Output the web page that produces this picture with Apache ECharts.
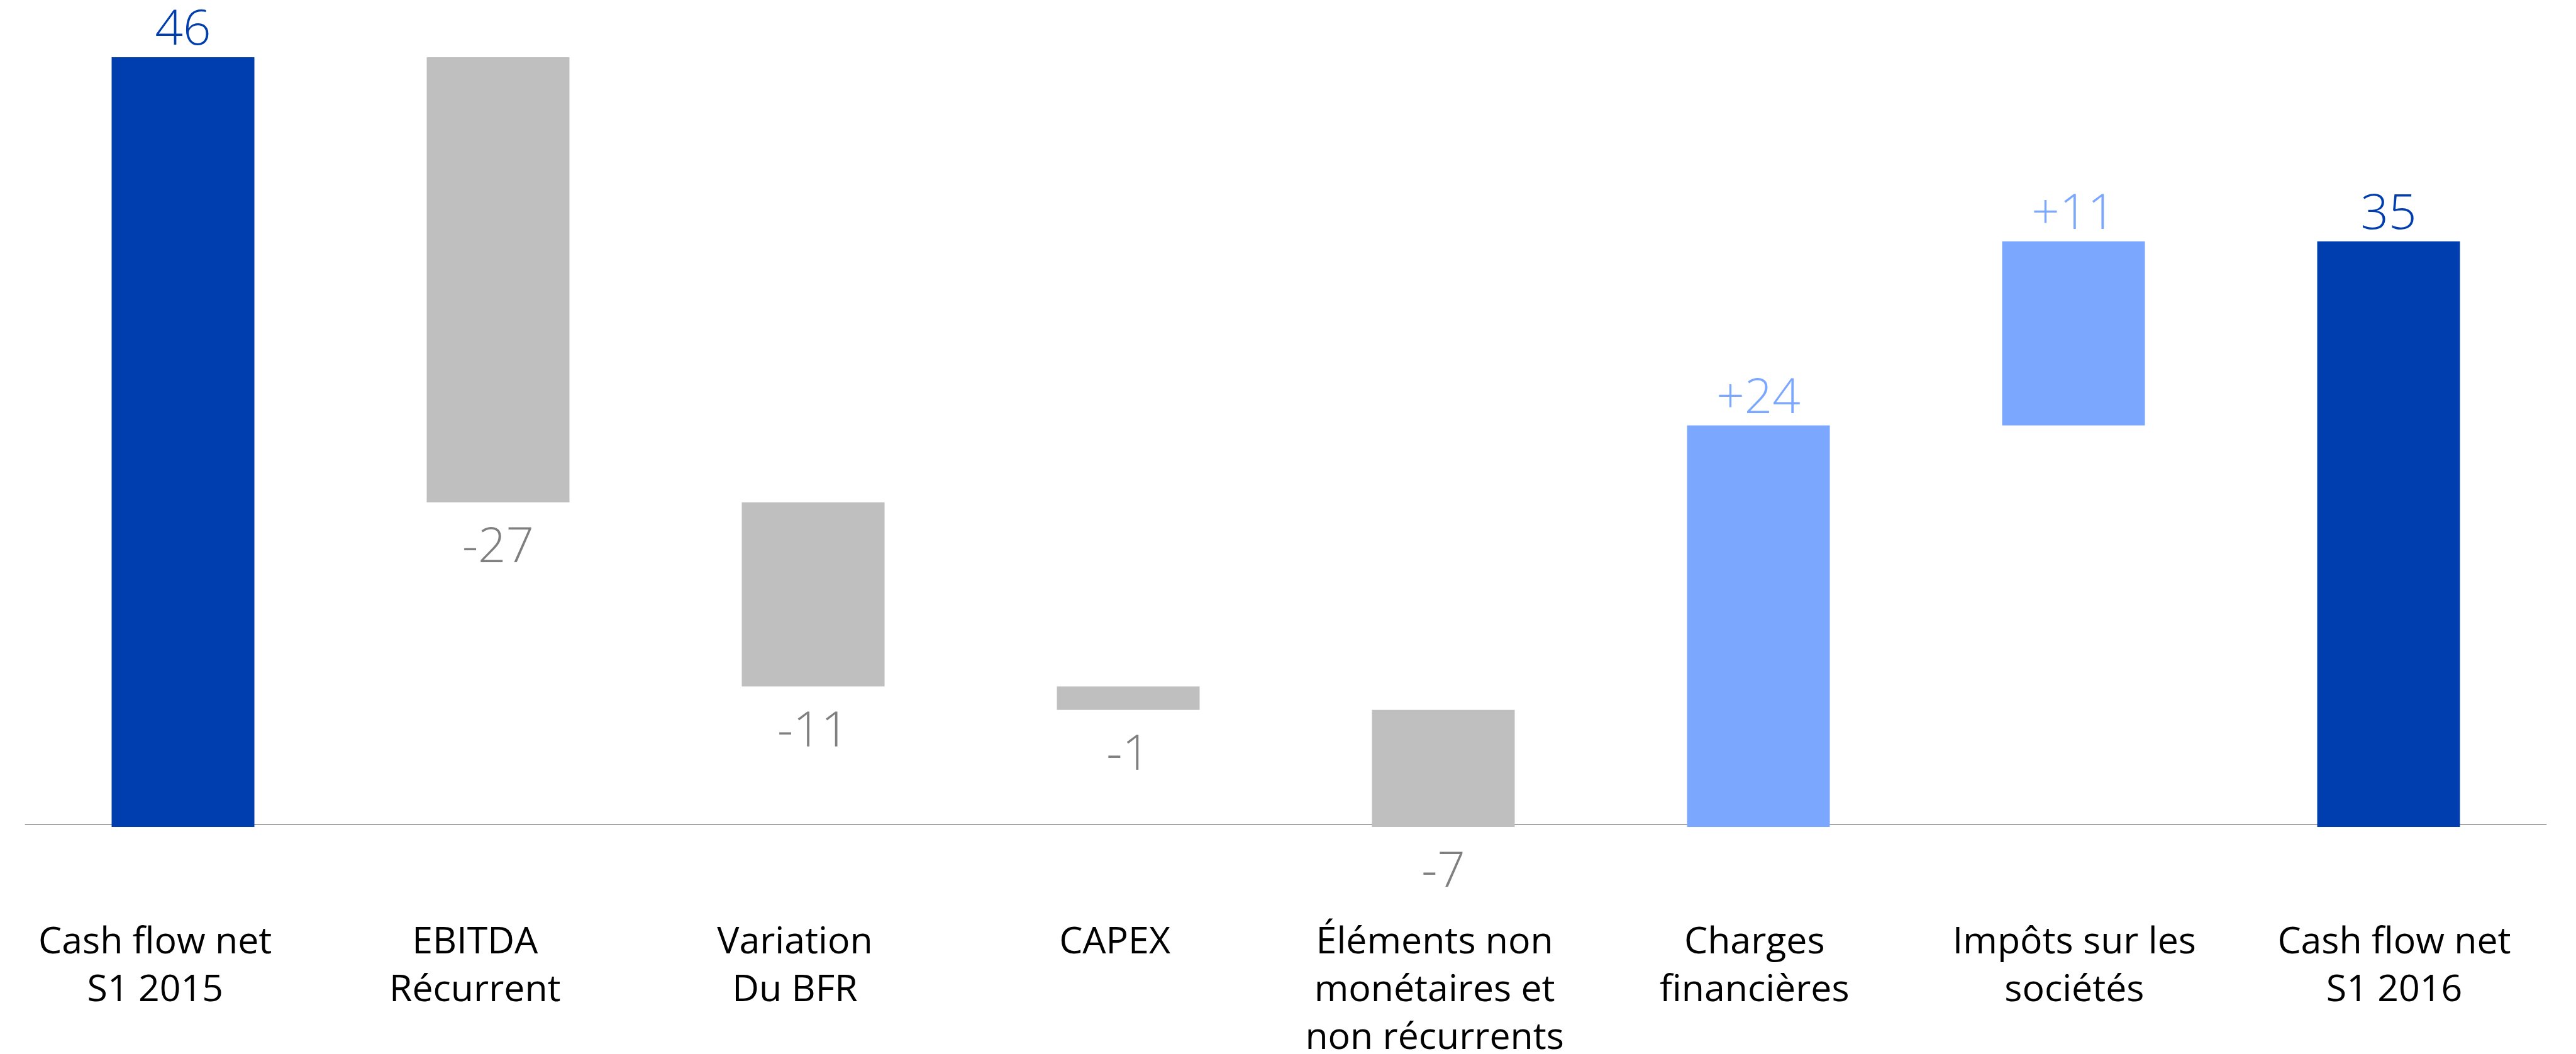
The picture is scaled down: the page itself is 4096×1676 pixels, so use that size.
<!DOCTYPE html>
<html lang="fr" style="height: 100%">
  <head>
    <meta charset="utf-8" />
  </head>
  <body style="height: 100%; margin: 0">
    <div id="container" style="width: 4096px; height: 1676px"></div>

    <script src="https://cdn.jsdelivr.net/npm/echarts@6/dist/echarts.min.js"></script>

    <script type="text/javascript">
      // waterfall: start total, variations, end total
      var categories = [
        "Cash flow net\nS1 2015",
        "EBITDA\nRécurrent",
        "Variation\nDu BFR",
        "CAPEX",
        "Éléments non\nmonétaires et\nnon récurrents",
        "Charges\nfinancières",
        "Impôts sur les\nsociétés",
        "Cash flow net\nS1 2016",
      ];
      var startValue = 46;
      var deltas = [-26.6, -11.0, -1.4, -7.0, 24.0, 11.0];
      var endValue = 35;

      var totalColor = "#003DAE";
      var downColor = "#BFBFBF";
      var downLabel = "#7F7F7F";
      var upColor = "#7BA7FF";

      var baseData = [0];
      var barData = [];
      var running = startValue;

      function labelStyle(pos, color) {
        return {
          show: true,
          position: pos,
          distance: pos === "top" ? 3 : 34,
          color: color,
          fontFamily: "Open Sans",
          fontWeight: 300,
          fontSize: 78,
        };
      }

      barData.push({
        value: startValue,
        text: String(startValue),
        itemStyle: { color: totalColor },
        label: labelStyle("top", totalColor),
      });
      deltas.forEach(function (d) {
        var txt = (d > 0 ? "+" : "") + Math.round(d);
        if (d < 0) {
          baseData.push(running + d);
          barData.push({
            value: -d,
            text: txt,
            itemStyle: { color: downColor },
            label: labelStyle("bottom", downLabel),
          });
        } else {
          baseData.push(running);
          barData.push({
            value: d,
            text: txt,
            itemStyle: { color: upColor },
            label: labelStyle("top", upColor),
          });
        }
        running += d;
      });
      baseData.push(0);
      barData.push({
        value: endValue,
        text: String(endValue),
        itemStyle: { color: totalColor },
        label: labelStyle("top", totalColor),
      });

      var myChart = echarts.init(document.getElementById("container"), null, {
        renderer: "canvas",
      });

      var option = {
        animation: false,
        grid: [
          { left: 40.5, right: 47.5, top: 91, bottom: 361, outerBoundsMode: "none" },
          // labels sit on a slightly wider spacing than the bars
          { left: -7.6, right: 34.7, top: 91, bottom: 361, outerBoundsMode: "none" },
        ],
        xAxis: [
          {
            type: "category",
            data: categories,
            offset: -4,
            axisLine: { lineStyle: { color: "#A6A6A6", width: 2 } },
            axisTick: { show: false },
            axisLabel: { show: false },
          },
          {
            type: "category",
            gridIndex: 1,
            data: categories,
            offset: -4,
            axisLine: { show: false },
            axisTick: { show: false },
            axisLabel: {
              interval: 0,
              margin: 150,
              color: "#000000",
              fontFamily: "Open Sans",
              fontSize: 59,
              lineHeight: 76,
            },
          },
        ],
        yAxis: [
          { type: "value", min: 0, max: 46, show: false, splitLine: { show: false } },
          { type: "value", gridIndex: 1, min: 0, max: 46, show: false, splitLine: { show: false } },
        ],
        series: [
          {
            type: "bar",
            stack: "wf",
            data: baseData,
            barWidth: 227,
            itemStyle: { color: "transparent" },
            silent: true,
          },
          {
            type: "bar",
            stack: "wf",
            data: barData,
            barWidth: 227,
            label: {
              show: true,
              formatter: function (p) {
                return p.data.text;
              },
            },
          },
        ],
      };

      myChart.setOption(option);
    </script>
  </body>
</html>
